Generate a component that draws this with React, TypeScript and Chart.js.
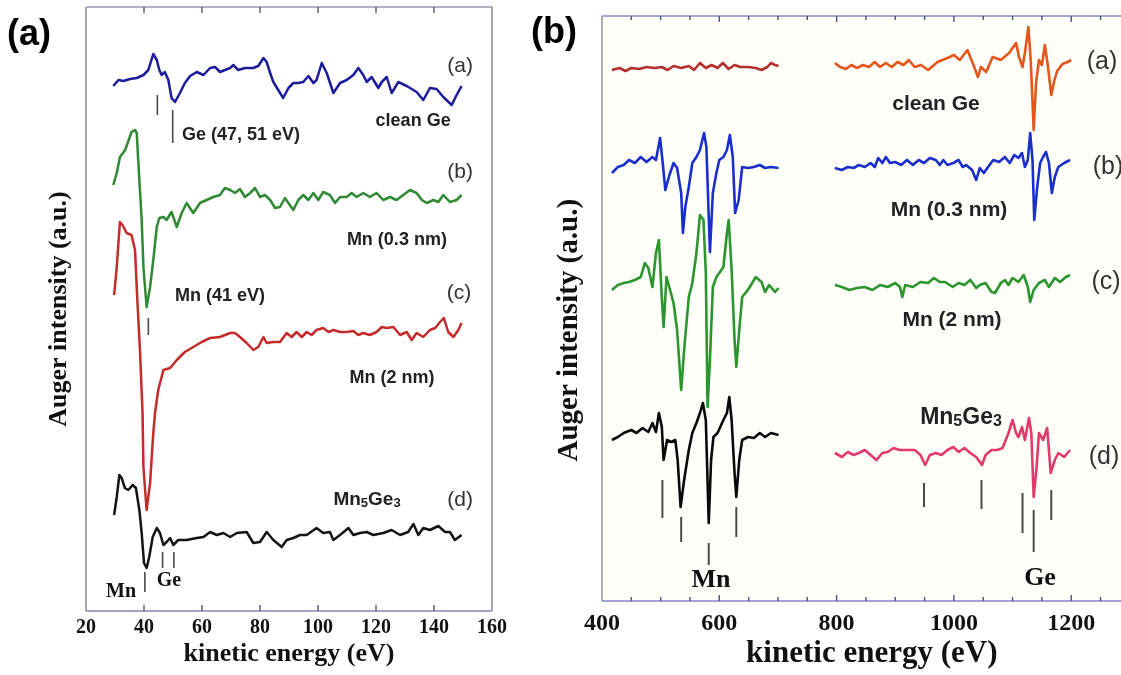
import React, { useEffect, useRef } from 'react';
import { Chart, registerables } from 'chart.js';
Chart.register(...registerables);

type P = [number, number];

// ---------- Panel (a): low kinetic energy, [eV, Auger intensity (a.u., offset)] ----------
const lowCleanGe: P[] = [[29.4,525],[31.2,531],[32.9,530],[35.2,532],[37.5,533],[39.8,536],[41.5,541],[43.2,557],[44.4,551],[45.3,541],[46.1,536],[47.2,539],[48.4,531],[49.5,513],[50.7,509],[52.4,518],[54.1,528],[55.9,535],[58.2,539],[60.5,536],[62.8,543],[64.5,544],[66.2,539],[67.9,541],[69.7,543],[70.8,546],[72.5,541],[74.8,543],[77.7,543],[79.4,545],[81.2,553],[82.3,549],[83.5,538],[84.6,529],[86.3,521],[88.0,513],[89.8,523],[91.5,528],[93.2,528],[94.9,529],[96.7,535],[98.4,528],[99.5,531],[101.3,548],[103.0,538],[105.3,518],[107.6,528],[109.9,531],[112.2,536],[113.9,543],[115.6,536],[116.8,529],[118.5,534],[120.8,523],[122.0,529],[123.7,534],[125.4,518],[127.7,529],[130.6,525],[134.0,519],[136.3,511],[138.6,523],[140.9,522],[143.2,514],[146.1,506],[147.8,516],[149.5,525]];
const lowMn03: P[] = [[29.4,426],[30.6,438],[31.7,454],[33.5,461],[34.6,470],[35.7,479],[36.9,481],[37.5,478],[38.0,451],[39.2,391],[39.8,344],[40.9,304],[42.1,324],[43.2,351],[44.4,384],[45.3,393],[46.7,394],[47.8,391],[49.5,399],[51.3,384],[53.0,398],[54.7,408],[57.0,398],[59.3,408],[61.6,411],[63.9,414],[66.2,416],[67.9,423],[69.7,421],[71.4,418],[73.1,422],[74.8,414],[76.6,418],[78.3,423],[80.0,414],[81.7,416],[83.5,411],[85.2,403],[86.9,404],[88.6,413],[89.8,408],[91.5,401],[93.2,411],[94.9,416],[96.7,411],[98.4,418],[100.1,411],[101.8,419],[104.1,416],[105.9,408],[107.6,414],[109.9,414],[111.6,418],[113.3,414],[115.6,418],[117.9,414],[120.2,418],[122.5,411],[124.8,414],[127.1,411],[129.4,416],[131.7,421],[134.0,418],[135.8,411],[137.5,408],[139.8,411],[141.5,409],[143.2,416],[145.5,409],[147.8,411],[149.5,416]];
const lowMn2: P[] = [[29.7,316],[30.6,344],[31.7,389],[32.6,386],[34.0,378],[35.7,376],[36.9,361],[37.7,311],[38.6,261],[39.5,198],[39.8,144],[40.9,101],[42.1,128],[43.2,178],[43.8,198],[44.9,221],[46.7,241],[49.0,243],[51.3,251],[54.1,259],[57.0,264],[59.9,269],[62.8,273],[66.2,274],[69.7,278],[71.4,278],[73.1,274],[75.4,268],[77.7,261],[79.4,264],[81.2,274],[82.3,268],[84.6,269],[86.9,269],[89.2,278],[90.9,274],[92.6,279],[94.4,274],[96.1,279],[97.8,276],[99.5,281],[101.8,283],[103.6,279],[105.3,281],[107.6,279],[109.9,279],[112.2,280],[113.9,276],[115.6,278],[117.9,276],[120.2,279],[122.0,284],[123.7,283],[126.0,284],[128.3,276],[130.6,279],[132.3,271],[134.0,278],[136.3,274],[138.6,281],[140.4,283],[142.1,289],[143.4,293],[144.9,279],[146.7,274],[148.4,281],[149.5,288]];
const lowMn5Ge3: P[] = [[29.7,96],[30.6,114],[31.5,136],[32.3,133],[33.4,123],[34.6,121],[36.1,126],[37.2,123],[38.4,101],[39.2,78],[40.0,48],[40.9,43],[41.8,54],[43.0,74],[44.4,83],[45.5,78],[46.7,66],[47.8,69],[49.0,73],[50.1,66],[51.8,71],[54.7,71],[58.2,73],[60.5,74],[62.8,79],[65.1,76],[67.4,78],[69.7,74],[72.0,78],[75.4,79],[77.7,68],[80.0,69],[82.3,79],[84.6,71],[87.5,64],[89.2,71],[91.5,73],[93.8,76],[96.1,76],[99.5,83],[101.8,78],[104.1,79],[105.3,71],[107.6,76],[110.5,83],[112.2,76],[114.5,78],[116.8,79],[119.1,76],[122.5,78],[125.4,81],[128.3,76],[131.1,79],[132.9,87],[134.6,76],[136.3,83],[138.6,81],[141.5,85],[143.8,79],[145.5,79],[147.2,71],[149.5,76]];
// peak marker ticks: [eV, from, to]
const lowMarkers: [number, number, number][] = [[44.6,516,496],[49.9,501,468],[41.5,293,276],[40.3,39,19],[46.4,59,43],[50.3,59,43]];
const lowTicks = { min: 20, max: 160, step: 20 };

// ---------- Panel (b): high kinetic energy ----------
const hiCleanGeL: P[] = [[417,531],[430,533],[440,530],[450,533],[463,532],[476,534],[489,533],[502,534],[512,531],[522,535],[535,533],[548,535],[557,531],[567,538],[577,533],[587,536],[597,533],[606,538],[616,532],[626,536],[636,534],[649,534],[662,533],[672,531],[682,534],[688,538],[695,536],[701,535]];
const hiCleanGeR: P[] = [[797,538],[806,534],[816,532],[825,536],[835,533],[845,536],[855,534],[865,539],[874,534],[884,538],[894,534],[904,539],[914,536],[923,541],[933,534],[944,536],[956,531],[972,539],[989,543],[1000,546],[1010,541],[1023,551],[1032,538],[1041,524],[1046,534],[1055,529],[1066,544],[1080,541],[1094,548],[1106,558],[1111,544],[1117,534],[1121,548],[1127,574],[1131,540],[1136,471],[1140,518],[1145,541],[1150,536],[1155,556],[1160,536],[1166,506],[1171,520],[1176,530],[1185,537],[1194,539],[1200,541]];
const hiMn03L: P[] = [[417,428],[427,434],[437,436],[446,441],[456,438],[466,444],[476,439],[486,444],[492,441],[499,463],[503,441],[508,411],[515,426],[522,438],[528,433],[535,408],[538,368],[542,394],[548,414],[554,438],[561,444],[567,451],[574,468],[578,454],[584,349],[589,408],[595,428],[600,441],[607,444],[613,451],[618,466],[623,444],[627,388],[633,401],[639,434],[649,433],[659,434],[669,436],[678,433],[688,434],[701,433]];
const hiMn03R: P[] = [[797,433],[809,431],[819,434],[829,433],[838,436],[848,434],[858,438],[865,434],[871,443],[878,438],[884,444],[891,438],[900,439],[910,436],[920,441],[930,436],[940,441],[949,438],[959,443],[969,441],[976,436],[982,441],[989,436],[999,438],[1008,441],[1015,434],[1021,436],[1031,431],[1038,421],[1044,433],[1051,428],[1057,433],[1067,441],[1077,439],[1087,444],[1095,438],[1103,446],[1110,443],[1116,448],[1121,434],[1126,441],[1130,468],[1134,441],[1137,381],[1142,414],[1147,438],[1152,444],[1157,449],[1162,438],[1167,408],[1172,424],[1178,434],[1188,438],[1198,441]];
const hiMn2L: P[] = [[417,311],[427,316],[437,318],[446,319],[456,321],[466,324],[473,338],[479,333],[486,314],[492,348],[497,361],[502,303],[505,274],[510,324],[516,311],[522,298],[528,271],[535,211],[541,258],[548,304],[554,318],[561,348],[567,386],[573,381],[577,328],[580,194],[584,241],[589,314],[595,324],[600,328],[607,334],[613,368],[616,381],[621,331],[626,261],[629,234],[634,271],[639,304],[646,309],[652,314],[662,324],[672,319],[678,309],[685,316],[695,309],[701,313]];
const hiMn2R: P[] = [[797,316],[809,314],[822,311],[835,313],[848,314],[861,311],[874,316],[887,314],[900,318],[908,314],[912,304],[917,316],[930,314],[943,319],[956,318],[966,323],[976,319],[985,319],[998,314],[1008,318],[1018,316],[1028,321],[1038,313],[1044,316],[1054,318],[1064,309],[1070,308],[1080,318],[1087,321],[1093,316],[1100,323],[1110,319],[1119,326],[1126,314],[1130,299],[1136,311],[1145,318],[1155,321],[1162,314],[1172,323],[1181,319],[1191,324],[1198,326]];
const hiMn5Ge3L: P[] = [[417,161],[427,164],[437,168],[450,171],[459,168],[469,173],[479,169],[486,178],[492,169],[497,188],[502,174],[505,141],[511,161],[518,159],[525,161],[529,141],[534,94],[540,121],[548,151],[554,168],[561,178],[567,188],[572,198],[577,181],[582,78],[586,141],[590,164],[597,168],[607,181],[613,188],[617,204],[621,181],[626,128],[629,104],[634,141],[639,161],[649,164],[659,163],[669,168],[678,164],[688,168],[701,166]];
const hiMn5Ge3R: P[] = [[797,148],[809,144],[819,149],[829,146],[838,148],[848,151],[858,146],[868,141],[878,148],[887,149],[897,153],[907,151],[920,151],[933,151],[943,146],[951,136],[959,146],[969,148],[979,146],[989,151],[999,154],[1008,149],[1018,153],[1028,148],[1038,144],[1048,136],[1054,146],[1064,151],[1074,151],[1083,153],[1093,168],[1100,181],[1106,168],[1110,164],[1116,174],[1121,161],[1128,183],[1132,168],[1136,104],[1141,134],[1145,168],[1152,161],[1159,173],[1165,128],[1172,141],[1178,148],[1188,144],[1198,151]];
const hiMarkers: [number, number, number][] = [[503,121,83],[535,84,59],[582,58,36],[629,94,64],[949,118,94],[1047,121,92],[1117,108,68],[1136,91,49],[1166,111,81]];
const hiTicks = { min: 400, max: 1320, step: 50, labelEvery: 200 };

// ---------- annotations ----------
type Lab = { t: string; e: number; i: number; k: string; align?: CanvasTextAlign };
const lowLabels: Lab[] = [
  { t: '(a)', e: 149.0, i: 545, k: 'case' },
  { t: 'clean Ge', e: 132.8, i: 490, k: 'bold' },
  { t: 'Ge (47, 51 eV)', e: 53.1, i: 476, k: 'bold', align: 'left' },
  { t: '(b)', e: 149.0, i: 439, k: 'case' },
  { t: 'Mn (0.3 nm)', e: 127.2, i: 371, k: 'bold' },
  { t: 'Mn (41 eV)', e: 50.7, i: 315, k: 'bold', align: 'left' },
  { t: '(c)', e: 148.6, i: 318, k: 'case' },
  { t: 'Mn (2 nm)', e: 125.5, i: 233, k: 'bold' },
  { t: 'Mn5Ge3', e: 116.9, i: 111, k: 'chem' },
  { t: '(d)', e: 149.0, i: 111, k: 'case' },
  { t: 'Mn', e: 32.1, i: 19, k: 'serif' },
  { t: 'Ge', e: 48.6, i: 30, k: 'serif' },
];
const hiLabels: Lab[] = [
  { t: '(a)', e: 1252.5, i: 539, k: 'case' },
  { t: 'clean Ge', e: 969.5, i: 497, k: 'bold' },
  { t: '(b)', e: 1262.7, i: 434, k: 'case' },
  { t: 'Mn (0.3 nm)', e: 991.6, i: 391, k: 'bold' },
  { t: '(c)', e: 1259.3, i: 319, k: 'case' },
  { t: 'Mn (2 nm)', e: 996.8, i: 281, k: 'bold' },
  { t: 'Mn5Ge3', e: 1012.1, i: 183, k: 'chem' },
  { t: '(d)', e: 1255.9, i: 144, k: 'case' },
  { t: 'Mn', e: 585.9, i: 21, k: 'serif' },
  { t: 'Ge', e: 1146.8, i: 23, k: 'serif' },
];

const SANS = '"Liberation Sans", Arial, Helvetica, sans-serif';
const SERIF = '"Liberation Serif", "Times New Roman", Times, serif';

type Styles = Record<string, { font: string; color: string; subFont?: string; subDy?: number }>;

function drawLabel(ctx: CanvasRenderingContext2D, L: Lab, x: number, y: number, st: Styles) {
  const s = st[L.k];
  ctx.fillStyle = s.color;
  ctx.textBaseline = 'middle';
  const align = L.align || 'center';
  if (L.k === 'chem') {
    const parts = L.t.split(/(\d+)/).filter(Boolean).map((p) => ({ p, sub: /^\d+$/.test(p) }));
    let w = 0;
    for (const q of parts) { ctx.font = q.sub ? s.subFont! : s.font; w += ctx.measureText(q.p).width; }
    let cx = align === 'left' ? x : align === 'right' ? x - w : x - w / 2;
    ctx.textAlign = 'left';
    for (const q of parts) {
      ctx.font = q.sub ? s.subFont! : s.font;
      ctx.fillText(q.p, cx, q.sub ? y + (s.subDy || 0) : y);
      cx += ctx.measureText(q.p).width;
    }
  } else {
    ctx.font = s.font;
    ctx.textAlign = align;
    ctx.fillText(L.t, x, y);
  }
}

function makeDecor(cfg: any) {
  return {
    id: 'decor',
    beforeDatasetsDraw(chart: any) {
      const { ctx, chartArea: a } = chart;
      if (cfg.bg) {
        ctx.save();
        ctx.fillStyle = cfg.bg;
        ctx.fillRect(a.left, a.top, a.right - a.left, a.bottom - a.top);
        ctx.restore();
      }
    },
    afterDatasetsDraw(chart: any) {
      const { ctx, chartArea: a, scales } = chart;
      const xs = scales.x, ys = scales.y;
      ctx.save();
      // peak markers
      ctx.strokeStyle = cfg.markerColor;
      ctx.lineWidth = cfg.markerWidth;
      for (const [e, i1, i2] of cfg.markers) {
        const x = xs.getPixelForValue(e);
        ctx.beginPath();
        ctx.moveTo(x, ys.getPixelForValue(i1));
        ctx.lineTo(x, ys.getPixelForValue(i2));
        ctx.stroke();
      }
      // frame
      ctx.lineWidth = 1.6;
      ctx.strokeStyle = cfg.leftColor;
      ctx.beginPath(); ctx.moveTo(a.left, a.top); ctx.lineTo(a.left, a.bottom); ctx.stroke();
      ctx.strokeStyle = cfg.axisColor;
      ctx.beginPath(); ctx.moveTo(a.left, a.bottom); ctx.lineTo(a.right, a.bottom); ctx.stroke();
      ctx.strokeStyle = cfg.topColor;
      ctx.beginPath(); ctx.moveTo(a.left, a.top); ctx.lineTo(a.right, a.top); ctx.stroke();
      if (cfg.rightBorder) {
        ctx.strokeStyle = cfg.leftColor;
        ctx.beginPath(); ctx.moveTo(a.right, a.top); ctx.lineTo(a.right, a.bottom); ctx.stroke();
      }
      // inward ticks, top and bottom
      ctx.lineWidth = 1.4;
      ctx.strokeStyle = cfg.tickColor;
      for (const t of xs.ticks) {
        const x = xs.getPixelForValue(t.value);
        if (x <= a.left + 1 || x >= a.right - 1) continue;
        const len = t.value % cfg.majorEvery === 0 ? cfg.majorLen : cfg.minorLen;
        ctx.beginPath();
        ctx.moveTo(x, a.bottom); ctx.lineTo(x, a.bottom - len);
        ctx.moveTo(x, a.top); ctx.lineTo(x, a.top + len);
        ctx.stroke();
      }
      // annotations
      for (const L of cfg.labels) drawLabel(ctx, L, xs.getPixelForValue(L.e), ys.getPixelForValue(L.i), cfg.styles);
      // panel letter
      ctx.font = 'bold 36px ' + SANS;
      ctx.fillStyle = '#000';
      ctx.textAlign = 'left';
      ctx.textBaseline = 'middle';
      ctx.fillText(cfg.panel, cfg.panelX, cfg.panelY);
      ctx.restore();
    },
  };
}

function lineSet(pts: P[], color: string, w: number) {
  return {
    data: pts.map(([x, y]) => ({ x, y })),
    borderColor: color,
    backgroundColor: color,
    borderWidth: w,
    pointRadius: 0,
    tension: 0,
    fill: false,
    borderJoinStyle: 'round' as const,
  };
}

function configA() {
  const styles: Styles = {
    case: { font: '21px ' + SANS, color: '#333' },
    bold: { font: 'bold 18px ' + SANS, color: '#222' },
    serif: { font: 'bold 20px ' + SERIF, color: '#111' },
    chem: { font: 'bold 19px ' + SANS, color: '#222', subFont: 'bold 13px ' + SANS, subDy: 3 },
  };
  return {
    type: 'line',
    data: {
      datasets: [
        lineSet(lowCleanGe, '#1c1c9a', 2.5),
        lineSet(lowMn03, '#2f8a33', 2.5),
        lineSet(lowMn2, '#c42b2b', 2.5),
        lineSet(lowMn5Ge3, '#141414', 2.5),
      ],
    },
    options: {
      responsive: false,
      animation: false,
      devicePixelRatio: 1,
      layout: { padding: { left: 0, top: 7, right: 38, bottom: 0 } },
      plugins: { legend: { display: false }, tooltip: { enabled: false } },
      scales: {
        x: {
          type: 'linear', position: 'bottom', min: lowTicks.min, max: lowTicks.max,
          ticks: { stepSize: lowTicks.step, autoSkip: false, maxRotation: 0, padding: 5, color: '#111',
            font: { family: SERIF, size: 20, weight: 'bold' }, callback: (v: number) => String(v) },
          grid: { display: false, drawTicks: false },
          border: { display: false },
          title: { display: true, text: 'kinetic energy (eV)', color: '#111',
            font: { family: SERIF, size: 26, weight: 'bold' }, padding: { top: 0, bottom: 5 } },
          afterFit: (s: any) => { s.height = 64; },
        },
        y: {
          type: 'linear', min: 0, max: 604,
          ticks: { display: false },
          grid: { display: false, drawTicks: false },
          border: { display: false },
          title: { display: true, text: 'Auger intensity (a.u.)', color: '#111',
            font: { family: SERIF, size: 26, weight: 'bold' }, padding: { top: 44, bottom: 0 } },
          afterFit: (s: any) => { s.width = 86; },
        },
      },
    },
    plugins: [makeDecor({
      markers: lowMarkers, markerColor: '#4a4a4a', markerWidth: 1.6,
      leftColor: '#8f8f98', axisColor: '#8686b8', topColor: '#9a9ab4', tickColor: '#55557a', rightBorder: true,
      majorEvery: 20, majorLen: 6, minorLen: 6,
      labels: lowLabels, styles, panel: '(a)', panelX: 7, panelY: 35,
    })],
  };
}

function configB() {
  const styles: Styles = {
    case: { font: '25px ' + SANS, color: '#333' },
    bold: { font: 'bold 21px ' + SANS, color: '#222' },
    serif: { font: 'bold 26px ' + SERIF, color: '#111' },
    chem: { font: 'bold 23px ' + SANS, color: '#222', subFont: 'bold 16px ' + SANS, subDy: 4 },
  };
  return {
    type: 'line',
    data: {
      datasets: [
        lineSet(hiCleanGeL, '#b3302e', 2.6),
        lineSet(hiCleanGeR, '#e4561b', 2.6),
        lineSet(hiMn03L, '#1a2ecc', 2.6),
        lineSet(hiMn03R, '#1a2ecc', 2.6),
        lineSet(hiMn2L, '#2b952e', 2.6),
        lineSet(hiMn2R, '#2b952e', 2.6),
        lineSet(hiMn5Ge3L, '#0a0a0a', 2.6),
        lineSet(hiMn5Ge3R, '#e23a6e', 2.6),
      ],
    },
    options: {
      responsive: false,
      animation: false,
      devicePixelRatio: 1,
      layout: { padding: { left: 0, top: 16, right: 18.4, bottom: 0 } },
      plugins: { legend: { display: false }, tooltip: { enabled: false } },
      scales: {
        x: {
          type: 'linear', position: 'bottom', min: hiTicks.min, max: hiTicks.max,
          ticks: { stepSize: hiTicks.step, autoSkip: false, maxRotation: 0, padding: 8, color: '#111',
            font: { family: SERIF, size: 24, weight: 'bold' },
            callback: (v: number) => (v % hiTicks.labelEvery === 0 ? String(v) : '') },
          grid: { display: false, drawTicks: false },
          border: { display: false },
          title: { display: true, text: 'kinetic energy (eV)', color: '#111',
            font: { family: SERIF, size: 31, weight: 'bold' }, padding: { top: 0, bottom: 2 } },
          afterFit: (s: any) => { s.height = 74; },
        },
        y: {
          type: 'linear', min: 0, max: 585,
          ticks: { display: false },
          grid: { display: false, drawTicks: false },
          border: { display: false },
          title: { display: true, text: 'Auger intensity (a.u.)      ', color: '#111',
            font: { family: SERIF, size: 29, weight: 'bold' }, padding: { top: 22, bottom: 0 } },
          afterFit: (s: any) => { s.width = 72; },
        },
      },
    },
    plugins: [makeDecor({
      bg: '#fffffa',
      markers: hiMarkers, markerColor: '#4a4a4a', markerWidth: 2,
      leftColor: '#9a9a9a', axisColor: '#8484cc', topColor: '#8484cc', tickColor: '#4d4d88', rightBorder: false,
      majorEvery: 200, majorLen: 6, minorLen: 4,
      labels: hiLabels, styles, panel: '(b)', panelX: 1, panelY: 33,
    })],
  };
}

function Panel({ left, width, height, make }: { left: number; width: number; height: number; make: () => any }) {
  const ref = useRef<HTMLCanvasElement>(null);
  useEffect(() => {
    const chart = new Chart(ref.current as HTMLCanvasElement, make());
    return () => chart.destroy();
  }, []);
  return (
    <canvas ref={ref} width={width} height={height}
      style={{ position: 'absolute', left, top: 0, width, height, display: 'block' }} />
  );
}

export default function App() {
  return (
    <div style={{ position: 'fixed', left: 0, top: 0, width: 1121, height: 675, overflow: 'hidden', background: '#ffffff' }}>
      <Panel left={0} width={530} height={675} make={configA} />
      <Panel left={530} width={630} height={675} make={configB} />
    </div>
  );
}
